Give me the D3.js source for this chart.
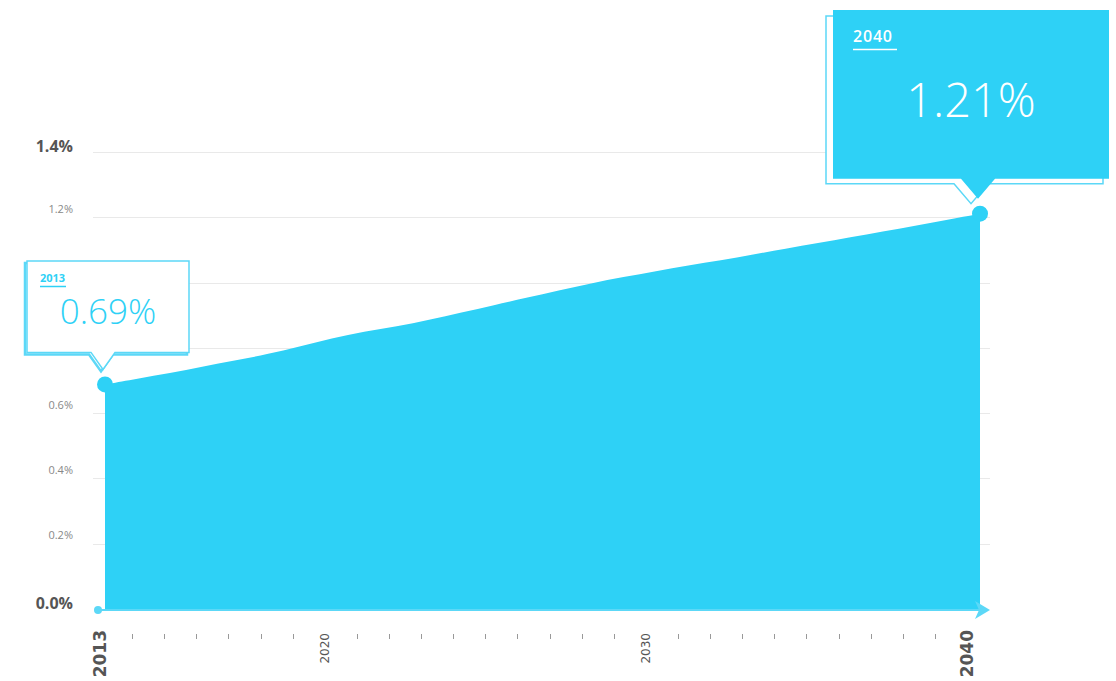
<!doctype html>
<html lang="en-US">
<head>
<meta charset="utf-8">
<title>Share 2013-2040</title>
<script src="https://cdn.jsdelivr.net/npm/d3@7"></script>
<style>
  html, body { margin: 0; padding: 0; background: #fff; }
  svg { display: block; font-family: "Open Sans", "Lato", sans-serif; }
</style>
</head>
<body>
<svg id="chart" width="1116" height="681"></svg>
<script>
// data
var years = d3.range(2013, 2041);
var shares = [0.688, 0.706, 0.722, 0.743, 0.761, 0.780, 0.804, 0.829, 0.850, 0.865,
              0.886, 0.908, 0.931, 0.953, 0.976, 0.998, 1.017, 1.035, 1.053, 1.068,
              1.086, 1.104, 1.121, 1.139, 1.157, 1.174, 1.193, 1.211];
var yTicks = [0, 0.2, 0.4, 0.6, 0.8, 1.0, 1.2, 1.4];
var yLabelTicks = [0, 0.2, 0.4, 0.6, 1.2, 1.4];   // 0.8 and 1.0 sit under the 2013 box
var yBoldTicks = [0, 1.4];
var xLabelYears = [2013, 2020, 2030, 2040];
var xBoldYears = [2013, 2040];

var blue = "#2ed1f6", lightBlue = "#5cd8f7";
var svg = d3.select("#chart");

var x = d3.scaleLinear().domain([2013, 2040]).range([105, 980]);
var xAxisPos = x.copy().range([100, 967]);   // ticks sit a bit left of the area
var y = d3.scaleLinear().domain([0, 1.4]).range([609, 152]);

var data = years.map(function(yr, i) { return {year: yr, v: shares[i]}; });

// gridlines
svg.append("g").selectAll("line").data(yTicks.filter(function(d){ return d > 0; }))
  .join("line")
  .attr("x1", 93).attr("x2", 990)
  .attr("y1", function(d){ return Math.round(y(d)) + 0.5; })
  .attr("y2", function(d){ return Math.round(y(d)) + 0.5; })
  .attr("stroke", "#e9e9e9").attr("stroke-width", 1);

// y labels
svg.append("g").selectAll("text").data(yLabelTicks)
  .join("text")
  .attr("x", 73)
  .attr("y", function(d){ return yBoldTicks.indexOf(d) >= 0 ? y(d) : y(d) - 4.5; })
  .attr("text-anchor", "end")
  .attr("fill", function(d){ return yBoldTicks.indexOf(d) >= 0 ? "#555" : "#888"; })
  .attr("font-size", function(d){ return yBoldTicks.indexOf(d) >= 0 ? 16 : 11; })
  .attr("font-weight", function(d){ return yBoldTicks.indexOf(d) >= 0 ? 700 : 400; })
  .text(function(d){ return d3.format(".1f")(d) + "%"; });

// area
var area = d3.area()
  .x(function(d){ return x(d.year); })
  .y0(y(0))
  .y1(function(d){ return y(d.v); })
  .curve(d3.curveBasis);
svg.append("path").datum(data).attr("d", area).attr("fill", blue);

// x axis line with arrow
var ax = svg.append("g");
var ay = y(0) + 1;
ax.append("line")
  .attr("x1", 98).attr("x2", 984)
  .attr("y1", ay).attr("y2", ay)
  .attr("stroke", lightBlue).attr("stroke-width", 2);
ax.append("circle").attr("cx", 98).attr("cy", ay).attr("r", 4).attr("fill", lightBlue);
ax.append("path")
  .attr("d", "M975," + (ay - 9) + "L990," + ay + "L975," + (ay + 9) + "L979," + ay + "Z")
  .attr("fill", lightBlue);

// x ticks and labels
var tickYears = years.filter(function(d){ return xLabelYears.indexOf(d) < 0; });
svg.append("g").selectAll("line").data(tickYears)
  .join("line")
  .attr("x1", function(d){ return Math.round(xAxisPos(d)) + 0.5; })
  .attr("x2", function(d){ return Math.round(xAxisPos(d)) + 0.5; })
  .attr("y1", 634).attr("y2", 639)
  .attr("stroke", "#999").attr("stroke-width", 1);

svg.append("g").selectAll("text").data(xLabelYears)
  .join("text")
  .attr("transform", function(d){
    var top = xBoldYears.indexOf(d) >= 0 ? 630 : 633;
    return "translate(" + xAxisPos(d) + "," + top + ") rotate(-90)";
  })
  .attr("text-anchor", "end")
  .attr("dy", "0.36em")
  .attr("font-family", "'DejaVu Sans', sans-serif")
  .attr("fill", function(d){ return xBoldYears.indexOf(d) >= 0 ? "#555" : "#555"; })
  .attr("font-size", function(d){ return xBoldYears.indexOf(d) >= 0 ? 17 : 12; })
  .attr("font-weight", function(d){ return xBoldYears.indexOf(d) >= 0 ? 700 : 400; })
  .text(function(d){ return d; });

// end dots
var first = data[0], last = data[data.length - 1];
[first, last].forEach(function(d){
  svg.append("circle").attr("cx", x(d.year)).attr("cy", y(d.v)).attr("r", 8).attr("fill", blue);
});

// callout outline: box with a pointer whose tip sits above the dot
function calloutPath(tipX, tipY, left, right, top, half, pointerH) {
  var by = tipY - pointerH;
  return "M" + left + "," + top + "L" + right + "," + top + "L" + right + "," + by +
    "L" + (tipX + half) + "," + by + "L" + tipX + "," + tipY + "L" + (tipX - half) + "," + by +
    "L" + left + "," + by + "Z";
}

// 2013 callout
(function(){
  var px = x(first.year), py = y(first.v);
  var tipX = px - 2, tipY = py - 15;
  var g = svg.append("g");
  g.append("path")
    .attr("d", calloutPath(tipX - 2, tipY + 2, 25, 187, 263, 12, 17))
    .attr("fill", "#fff").attr("stroke", lightBlue).attr("stroke-width", 2.5);
  g.append("path")
    .attr("d", calloutPath(tipX, tipY, 27, 189, 261, 12, 17))
    .attr("fill", "#fff").attr("stroke", lightBlue).attr("stroke-width", 1.5);
  g.append("text").attr("x", 40).attr("y", 282)
    .attr("fill", blue).attr("font-size", 11).attr("font-weight", 700)
    .text(first.year);
  g.append("line").attr("x1", 40).attr("x2", 66).attr("y1", 286.5).attr("y2", 286.5)
    .attr("stroke", blue).attr("stroke-width", 1.5);
  g.append("text").attr("x", 108).attr("y", 324)
    .attr("text-anchor", "middle")
    .attr("fill", blue).attr("font-size", 35).attr("font-weight", 300)
    .text(d3.format(".2f")(first.v) + "%");
})();

// 2040 callout
(function(){
  var px = x(last.year), py = y(last.v);
  var tipX = px - 2, tipY = py - 15;
  var g = svg.append("g");
  g.append("path")
    .attr("d", calloutPath(tipX - 7, tipY + 5, 826, 1103, 16, 17, 20))
    .attr("fill", "#fff").attr("stroke", lightBlue).attr("stroke-width", 1.5);
  g.append("path")
    .attr("d", calloutPath(tipX, tipY, 833, 1109, 10, 17, 20))
    .attr("fill", blue);
  g.append("text").attr("x", 853).attr("y", 42)
    .attr("fill", "#fff").attr("font-size", 16).attr("font-weight", 600)
    .attr("letter-spacing", 0.8)
    .text(last.year);
  g.append("line").attr("x1", 853).attr("x2", 897).attr("y1", 49.5).attr("y2", 49.5)
    .attr("stroke", "#fff").attr("stroke-width", 1.5);
  g.append("text").attr("x", 971).attr("y", 117)
    .attr("text-anchor", "middle")
    .attr("fill", "#fff").attr("font-size", 47).attr("font-weight", 300)
    .text(d3.format(".2f")(last.v) + "%");
})();
</script>
</body>
</html>
